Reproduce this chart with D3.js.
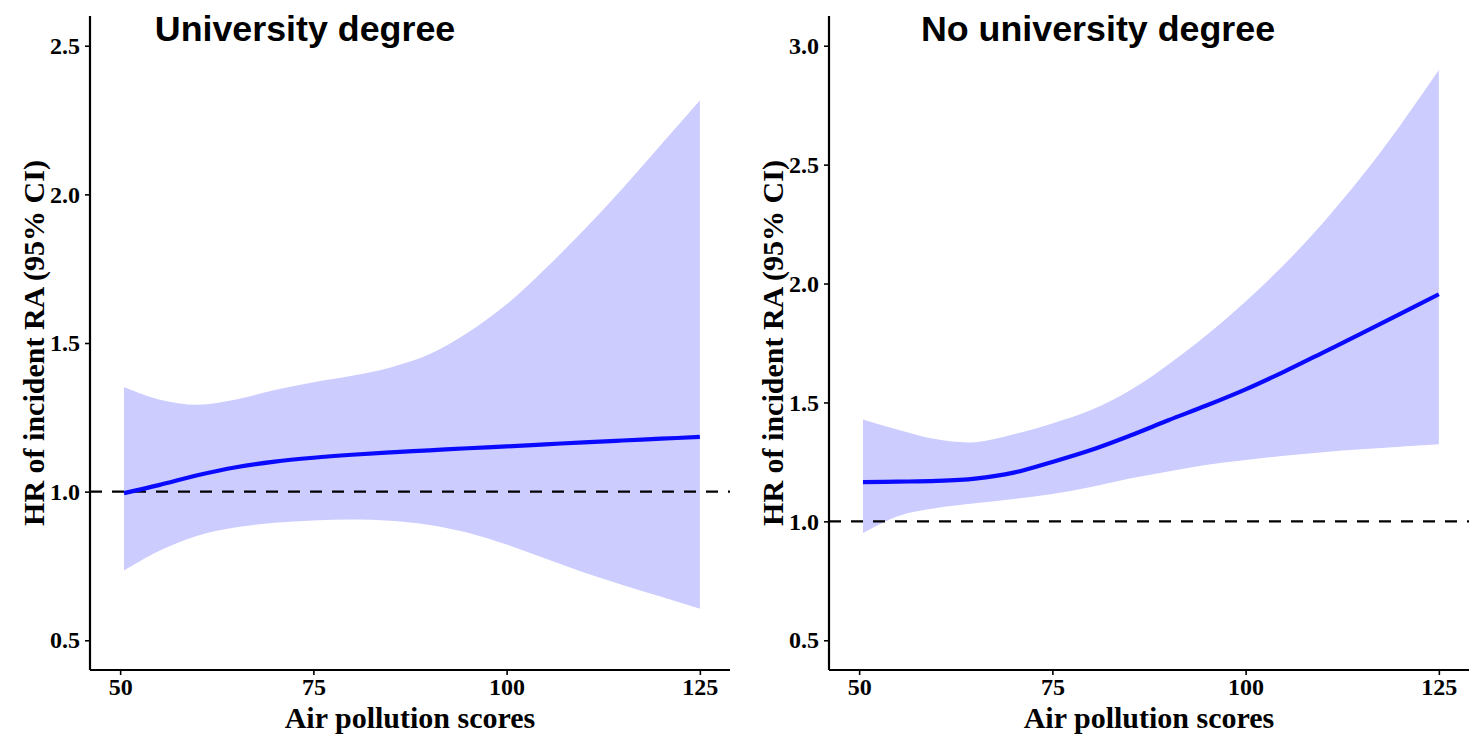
<!DOCTYPE html>
<html>
<head>
<meta charset="utf-8">
<script src="https://cdn.jsdelivr.net/npm/d3@7"></script>
<style>
  html, body { margin: 0; padding: 0; background: #fff; }
  svg { display: block; }
</style>
</head>
<body>
<svg id="chart" width="1479" height="737"></svg>
<script>
// ---------------- data ----------------
const panelTitles = ["University degree", "No university degree"];
const xLabel = "Air pollution scores";
const yLabel = "HR of incident RA (95% CI)";
const xTicks = [50, 75, 100, 125];
const yTicksUni = [0.5, 1.0, 1.5, 2.0, 2.5];
const yTicksNoUni = [0.5, 1.0, 1.5, 2.0, 2.5, 3.0];
const refHR = 1.0;

const pollution = [50.5, 55, 60, 65, 70, 75, 80, 85, 90, 95, 100, 105, 110, 115, 120, 125];

// University degree
const uniHR    = [0.995, 1.022, 1.055, 1.082, 1.101, 1.114, 1.124, 1.132, 1.139, 1.146, 1.152, 1.159, 1.166, 1.172, 1.178, 1.184];
const uniLower = [0.734, 0.80, 0.852, 0.880, 0.895, 0.903, 0.906, 0.902, 0.888, 0.862, 0.822, 0.775, 0.728, 0.686, 0.646, 0.606];
const uniUpper = [1.352, 1.31, 1.292, 1.31, 1.342, 1.368, 1.39, 1.418, 1.462, 1.535, 1.63, 1.75, 1.88, 2.02, 2.168, 2.316];

// No university degree
const noUniHR    = [1.165, 1.167, 1.170, 1.180, 1.205, 1.250, 1.300, 1.360, 1.425, 1.488, 1.555, 1.630, 1.710, 1.790, 1.872, 1.955];
const noUniLower = [0.951, 1.022, 1.056, 1.076, 1.094, 1.115, 1.145, 1.180, 1.210, 1.238, 1.258, 1.276, 1.291, 1.303, 1.314, 1.324];
const noUniUpper = [1.428, 1.385, 1.345, 1.333, 1.366, 1.412, 1.468, 1.550, 1.660, 1.785, 1.925, 2.080, 2.255, 2.450, 2.665, 2.898];

// ---------------- layout ----------------
const panels = [
  { title: panelTitles[0], left: 90, right: 730, yDomain: [0.4, 2.6], yTicks: yTicksUni,
    hr: uniHR, lo: uniLower, hi: uniUpper, titleX: 305 },
  { title: panelTitles[1], left: 829, right: 1469, yDomain: [0.375, 3.125], yTicks: yTicksNoUni,
    hr: noUniHR, lo: noUniLower, hi: noUniUpper, titleX: 1098 }
];
const plotTop = 16, plotBottom = 670;
const serif = "'Liberation Serif', 'Times New Roman', serif";
const sans = "'Liberation Sans', Arial, sans-serif";
const smooth = d3.curveCatmullRom.alpha(0.5);

const svg = d3.select("#chart");

panels.forEach(p => {
  const x = d3.scaleLinear().domain([46.1, 128.9]).range([p.left, p.right]);
  const y = d3.scaleLinear().domain(p.yDomain).range([plotBottom, plotTop]);
  const g = svg.append("g");

  const rows = pollution.map((v, i) => ({ x: v, hr: p.hr[i], lo: p.lo[i], hi: p.hi[i] }));

  // confidence band
  g.append("path")
    .datum(rows)
    .attr("fill", "#ccccff")
    .attr("d", d3.area().curve(smooth)
      .x(d => x(d.x)).y0(d => y(d.lo)).y1(d => y(d.hi)));

  // reference line
  g.append("line")
    .attr("x1", p.left).attr("x2", p.right)
    .attr("y1", y(refHR)).attr("y2", y(refHR))
    .attr("stroke", "#000").attr("stroke-width", 2.4)
    .attr("stroke-dasharray", "12,10");

  // HR curve
  g.append("path")
    .datum(rows)
    .attr("fill", "none")
    .attr("stroke", "#0a0aff")
    .attr("stroke-width", 4.2)
    .attr("d", d3.line().curve(smooth).x(d => x(d.x)).y(d => y(d.hr)));

  // axes
  const xAxis = g.append("g").attr("transform", `translate(0,${plotBottom})`)
    .call(d3.axisBottom(x).tickValues(xTicks).tickSize(5).tickPadding(3).tickFormat(d3.format("d")));
  const yAxis = g.append("g").attr("transform", `translate(${p.left},0)`)
    .call(d3.axisLeft(y).tickValues(p.yTicks).tickSize(5).tickPadding(5).tickFormat(d3.format(".1f")));

  [xAxis, yAxis].forEach(a => {
    a.select(".domain").attr("stroke", "#000").attr("stroke-width", 2.2);
    a.selectAll(".tick line").attr("stroke", "#000").attr("stroke-width", 1.6);
    a.selectAll(".tick text").attr("fill", "#000")
      .style("font-family", serif).style("font-weight", "bold").style("font-size", "24px");
  });
  xAxis.select(".domain").attr("d", `M${p.left},0H${p.right}`);
  yAxis.select(".domain").attr("d", `M0,${plotTop}V${plotBottom}`);

  // panel title
  g.append("text")
    .attr("x", p.titleX)
    .attr("y", 41)
    .attr("text-anchor", "middle")
    .style("font-family", sans).style("font-weight", "bold").style("font-size", "35.8px")
    .text(p.title);

  // x axis title
  g.append("text")
    .attr("x", (p.left + p.right) / 2)
    .attr("y", 728)
    .attr("text-anchor", "middle")
    .style("font-family", serif).style("font-weight", "bold").style("font-size", "30px")
    .text(xLabel);

  // y axis title
  g.append("text")
    .attr("transform", `translate(${p.left - 46},${(plotTop + plotBottom) / 2}) rotate(-90)`)
    .attr("text-anchor", "middle")
    .style("font-family", serif).style("font-weight", "bold").style("font-size", "30px")
    .text(yLabel);
});
</script>
</body>
</html>
